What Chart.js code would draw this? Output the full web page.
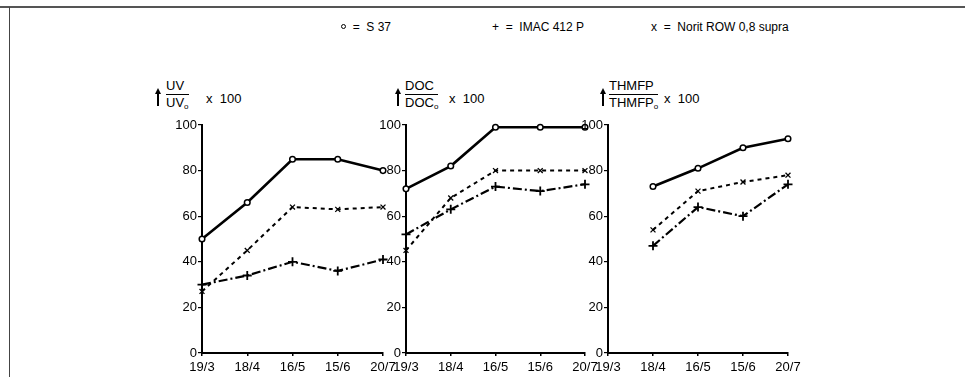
<!DOCTYPE html>
<html>
<head>
<meta charset="utf-8">
<script src="https://cdn.jsdelivr.net/npm/chart.js@4/dist/chart.umd.min.js"></script>
<style>
  body { margin: 0; background: #fff; width: 972px; height: 381px; overflow: hidden; position: relative;
         font-family: "Liberation Sans", Arial, sans-serif; color: #000; }
  canvas { position: absolute; }
  .frame-top { position: absolute; left: 0; top: 6px; width: 965px; height: 2px; background: #555; }
  .frame-left { position: absolute; left: 9px; top: 7px; width: 1px; height: 370px; background: #444; }
  .legend { position: absolute; top: 20px; font-size: 12px; white-space: nowrap; }
  .ring { display: inline-block; width: 3px; height: 3px; border: 1.2px solid #000; border-radius: 50%; vertical-align: 2px; }
  .head { position: absolute; font-size: 13px; white-space: nowrap; }
  .arrow { position: absolute; width: 1.5px; height: 15px; background: #000; }
  .arrow:before { content: ""; position: absolute; left: -2.5px; top: -3px; border-left: 3.25px solid transparent;
                  border-right: 3.25px solid transparent; border-bottom: 6px solid #000; }
  .frac { position: absolute; text-align: left; line-height: 15px; }
  .frac .num { border-bottom: 1.5px solid #000; padding-bottom: 1px; }
  .frac sub { font-size: 8px; vertical-align: -2px; }
</style>
</head>
<body>
<div class="frame-top"></div>
<div class="frame-left"></div>

<div class="legend" style="left:341px"><span class="ring"></span> &nbsp;= &nbsp;S 37</div>
<div class="legend" style="left:492px">+ &nbsp;= &nbsp;IMAC 412 P</div>
<div class="legend" style="left:651px">x &nbsp;= &nbsp;Norit ROW 0,8 supra</div>

<div class="arrow" style="left:157px;top:91px"></div>
<div class="head frac" style="left:166px;top:78px"><div class="num">UV</div><div>UV<sub>o</sub></div></div>
<div class="head" style="left:206px;top:91px">x &nbsp;100</div>

<div class="arrow" style="left:397px;top:91px"></div>
<div class="head frac" style="left:405px;top:78px"><div class="num">DOC</div><div>DOC<sub>o</sub></div></div>
<div class="head" style="left:449px;top:91px">x &nbsp;100</div>

<div class="arrow" style="left:602px;top:91px"></div>
<div class="head frac" style="left:609px;top:78px"><div class="num">THMFP</div><div>THMFP<sub>o</sub></div></div>
<div class="head" style="left:664px;top:91px">x &nbsp;100</div>

<canvas id="uvChart" width="240" height="266" style="left:162px;top:115px"></canvas>
<canvas id="docChart" width="239" height="266" style="left:366px;top:115px"></canvas>
<canvas id="thmChart" width="240" height="266" style="left:568px;top:115px"></canvas>

<script>
const dates = ["19/3", "18/4", "16/5", "15/6", "20/7"];
const yTicks = [0, 20, 40, 60, 80, 100];

// UV / UVo x 100
const uvS37 = [50, 66, 85, 85, 80];
const uvImac = [30, 34, 40, 36, 41];
const uvNorit = [27, 45, 64, 63, 64];

// DOC / DOCo x 100
const docS37 = [72, 82, 99, 99, 99];
const docImac = [52, 63, 73, 71, 74];
const docNorit = [45, 68, 80, 80, 80];

// THMFP / THMFPo x 100 (no value on 19/3)
const thmS37 = [null, 73, 81, 90, 94];
const thmImac = [null, 47, 64, 60, 74];
const thmNorit = [null, 54, 71, 75, 78];

const tickFont = { family: "'Liberation Sans', Arial, sans-serif", size: 13 };

function makePanel(id, plotWidth, s37, imac, norit) {
  const canvas = document.getElementById(id);
  const ctx = canvas.getContext("2d");
  return new Chart(ctx, {
    type: "line",
    data: {
      labels: dates,
      datasets: [
        {
          label: "S 37",
          data: s37,
          borderColor: "#000",
          borderWidth: 2.6,
          pointStyle: "circle",
          pointRadius: 2.8,
          pointBorderWidth: 1.5,
          pointBackgroundColor: "#fff",
          pointBorderColor: "#000",
        },
        {
          label: "IMAC 412 P",
          data: imac,
          borderColor: "#000",
          borderWidth: 2.2,
          borderDash: [9, 3, 2, 3],
          pointStyle: "cross",
          pointRadius: 4.5,
          pointBorderWidth: 1.8,
          pointBorderColor: "#000",
        },
        {
          label: "Norit ROW 0,8 supra",
          data: norit,
          borderColor: "#000",
          borderWidth: 2,
          borderDash: [4, 4],
          pointStyle: "crossRot",
          pointRadius: 3.5,
          pointBorderWidth: 1.3,
          pointBorderColor: "#000",
        },
      ],
    },
    options: {
      responsive: false,
      animation: false,
      clip: false,
      spanGaps: false,
      layout: { padding: { top: 10, right: canvas.width - 40 - plotWidth, left: 0, bottom: 0 } },
      plugins: { legend: { display: false }, tooltip: { enabled: false } },
      scales: {
        x: {
          offset: false,
          grid: { drawOnChartArea: false, drawTicks: true, tickLength: 3, color: "#000", lineWidth: 1.5 },
          border: { color: "#000", width: 2 },
          ticks: { color: "#000", font: tickFont, padding: 4, maxRotation: 0, autoSkip: false },
          afterFit: (scale) => { scale.height = 28; },
        },
        y: {
          min: 0,
          max: 100,
          afterBuildTicks: (scale) => { scale.ticks = yTicks.map((v) => ({ value: v })); },
          grid: { drawOnChartArea: false, drawTicks: true, tickLength: 4, color: "#000", lineWidth: 1.2 },
          border: { color: "#000", width: 2 },
          ticks: { color: "#000", font: tickFont, padding: 1 },
          afterFit: (scale) => { scale.width = 40; },
        },
      },
    },
  });
}

const uvChart = makePanel("uvChart", 181, uvS37, uvImac, uvNorit);
const docChart = makePanel("docChart", 179, docS37, docImac, docNorit);
const thmChart = makePanel("thmChart", 180, thmS37, thmImac, thmNorit);
</script>
</body>
</html>
